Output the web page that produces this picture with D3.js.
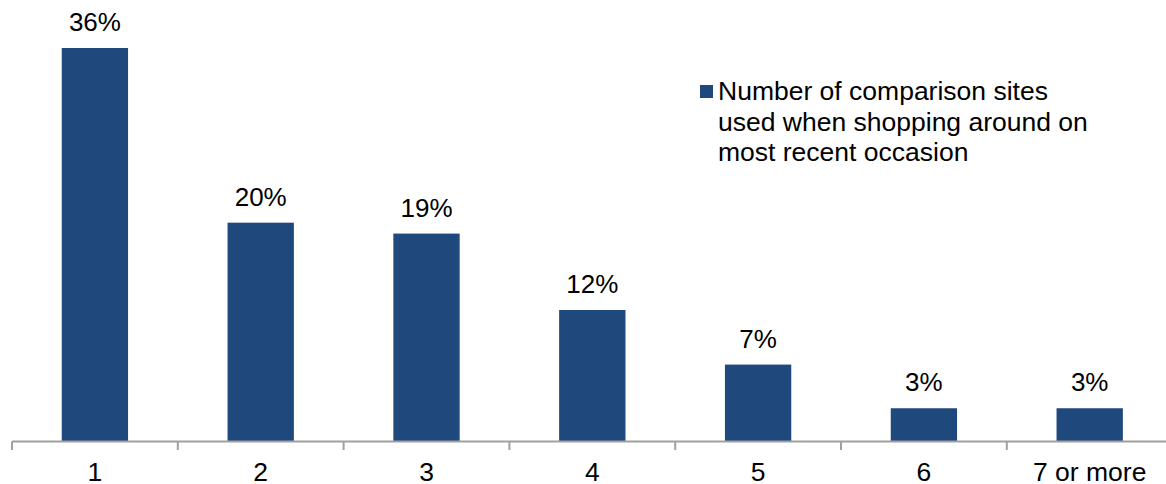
<!DOCTYPE html>
<html>
<head>
<meta charset="utf-8">
<script src="https://cdn.jsdelivr.net/npm/d3@7"></script>
<style>
  html, body { margin: 0; padding: 0; background: #fff; }
  svg { display: block; font-family: "Liberation Sans", Arial, sans-serif; }
</style>
</head>
<body>
<svg id="chart" width="1166" height="484"></svg>
<script>
// Number of comparison sites used (share of respondents, %)
const categories = ["1", "2", "3", "4", "5", "6", "7 or more"];
const values = [36, 20, 19, 12, 7, 3, 3];
const valueLabels = ["36%", "20%", "19%", "12%", "7%", "3%", "3%"];
const legendLines = ["Number of comparison sites", "used when shopping around on", "most recent occasion"];

const svg = d3.select("#chart");
const barColor = "#1F497D";
const axisColor = "#A0A0A0";
const labelSize = 26;
const textSize = 26.5;

const x = d3.scaleBand()
  .domain(categories)
  .range([12, 1172.6])
  .paddingInner(0.6)
  .paddingOuter(0.3);

const y = d3.scaleLinear()
  .domain([0, 36])
  .range([441, 48]);

// Bars
svg.append("g")
  .selectAll("rect")
  .data(values)
  .join("rect")
  .attr("x", (d, i) => x(categories[i]))
  .attr("y", d => y(d))
  .attr("width", x.bandwidth())
  .attr("height", d => y(0) - y(d))
  .attr("fill", barColor);

// Value labels above bars
svg.append("g")
  .selectAll("text")
  .data(values)
  .join("text")
  .attr("x", (d, i) => x(categories[i]) + x.bandwidth() / 2)
  .attr("y", d => y(d) - 17)
  .attr("text-anchor", "middle")
  .attr("font-size", labelSize)
  .attr("fill", "#000")
  .text((d, i) => valueLabels[i]);

// Category axis with ticks at band boundaries
const step = x.step();
const x0 = x.range()[0];
const boundaries = d3.range(categories.length + 1).map(i => x0 + i * step);
const axisG = svg.append("g");
axisG.append("line")
  .attr("x1", x0).attr("x2", x0 + step * categories.length)
  .attr("y1", 441.5).attr("y2", 441.5)
  .attr("stroke", axisColor).attr("stroke-width", 2);
axisG.selectAll("line.tick")
  .data(boundaries)
  .join("line")
  .attr("class", "tick")
  .attr("x1", d => d).attr("x2", d => d)
  .attr("y1", 441.5).attr("y2", 450)
  .attr("stroke", axisColor).attr("stroke-width", 2);
axisG.selectAll("text")
  .data(categories)
  .join("text")
  .attr("x", d => x(d) + x.bandwidth() / 2)
  .attr("y", 481)
  .attr("text-anchor", "middle")
  .attr("font-size", textSize)
  .attr("fill", "#000")
  .text(d => d);

// Legend
const legend = svg.append("g");
legend.append("rect")
  .attr("x", 700).attr("y", 85)
  .attr("width", 13).attr("height", 13)
  .attr("fill", barColor);
legend.selectAll("text")
  .data(legendLines)
  .join("text")
  .attr("x", 718)
  .attr("y", (d, i) => 100 + i * 30.7)
  .attr("font-size", textSize)
  .attr("fill", "#000")
  .text(d => d);
</script>
</body>
</html>
